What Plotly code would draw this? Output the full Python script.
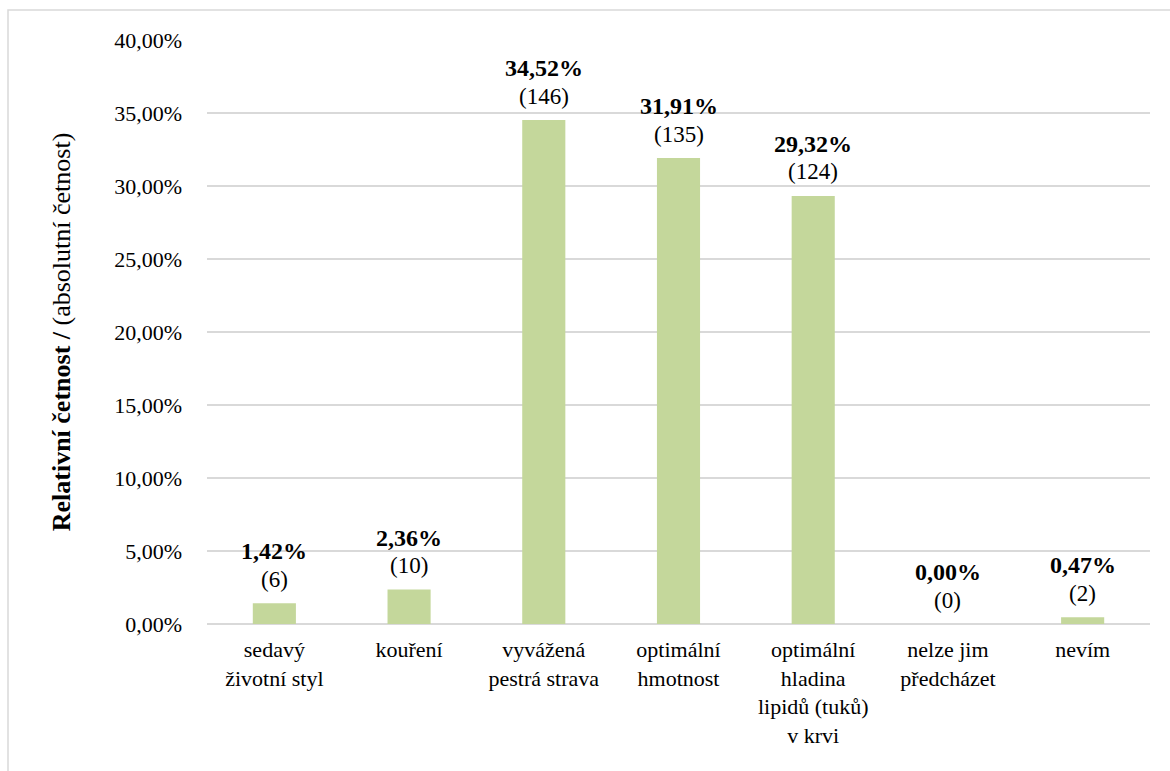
import plotly.graph_objects as go

# Data
categories = [
    "sedavý<br>životní styl",
    "kouření",
    "vyvážená<br>pestrá strava",
    "optimální<br>hmotnost",
    "optimální<br>hladina<br>lipidů (tuků)<br>v krvi",
    "nelze jim<br>předcházet",
    "nevím",
]
relative = [1.42, 2.36, 34.52, 31.91, 29.32, 0.00, 0.47]
absolute = [6, 10, 146, 135, 124, 0, 2]
y_ticks = [0, 5, 10, 15, 20, 25, 30, 35, 40]

FONT = "Times New Roman"
FS = 22
BAR_COLOR = "#c4d79b"
GRID = "#d9d9d9"

fig = go.Figure()
fig.add_trace(go.Bar(
    x=list(range(len(categories))),
    y=[v / 100 for v in relative],
    marker=dict(color=BAR_COLOR, line=dict(width=0)),
    width=0.32,
    hoverinfo="skip",
))

# Value labels above bars: bold share on top, count below
for i, (rel, ab) in enumerate(zip(relative, absolute)):
    fig.add_annotation(
        x=i, y=rel / 100, xref="x", yref="y",
        text=f"({ab})", showarrow=False, yanchor="middle", yshift=24,
        font=dict(family=FONT, size=23, color="black"),
    )
    fig.add_annotation(
        x=i, y=rel / 100, xref="x", yref="y",
        text="<b>" + f"{rel:.2f}%".replace(".", ",") + "</b>",
        showarrow=False, yanchor="middle", yshift=52,
        font=dict(family=FONT, size=24, color="black"),
    )

# Outer frame of the chart area
L, R, T, B = 207, 1150, 40, 624
px_w, px_h = R - L, B - T
fig.add_shape(
    type="rect", xref="paper", yref="paper",
    x0=(8 - L) / px_w, x1=(1300 - L) / px_w,
    y0=(B - 900) / px_h, y1=(B - 10) / px_h,
    line=dict(color=GRID, width=1.5), fillcolor="rgba(0,0,0,0)", layer="below",
)

fig.update_layout(
    width=1170, height=771,
    margin=dict(l=L, r=1170 - R, t=T, b=771 - B),
    paper_bgcolor="white", plot_bgcolor="white",
    separators=",.",
    showlegend=False,
)
fig.update_xaxes(
    tickmode="array",
    tickvals=list(range(len(categories))),
    ticktext=categories,
    range=[-0.5, len(categories) - 0.5],
    showgrid=False, zeroline=False,
    showline=False, ticks="",
    ticklabelstandoff=10,
    tickfont=dict(family=FONT, size=FS, color="black"),
)
fig.update_yaxes(
    range=[0, 0.4],
    tickmode="array",
    tickvals=[t / 100 for t in y_ticks],
    tickformat=".2%",
    showgrid=True, gridcolor=GRID, gridwidth=1.5,
    zeroline=True, zerolinecolor=GRID, zerolinewidth=2,
    showline=False, ticks="",
    ticklabelstandoff=24,
    tickfont=dict(family=FONT, size=FS, color="black"),
    title=dict(
        text="<b>Relativní četnost /</b> (absolutní četnost)",
        font=dict(family=FONT, size=26, color="black"),
        standoff=36,
    ),
)

fig.write_html("out.html")
